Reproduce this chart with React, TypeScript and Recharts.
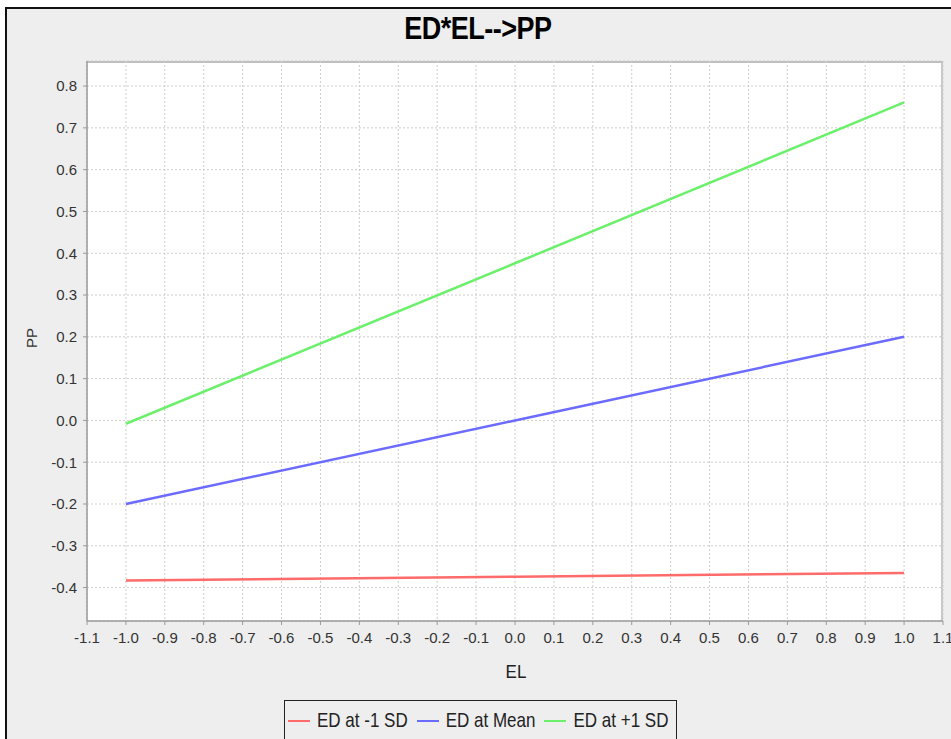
import { LineChart, Line, XAxis, YAxis, CartesianGrid } from "recharts";

// EL values where the simple slopes were evaluated
const elValues = [-1.0, 0.0, 1.0];

// predicted PP for each ED level
const edLow = [-0.383, -0.374, -0.365];
const edMean = [-0.2, 0.0, 0.2];
const edHigh = [-0.008, 0.376, 0.761];

const seriesKeys = ["low", "mean", "high"];
const seriesNames = ["ED at -1 SD", "ED at Mean", "ED at +1 SD"];
const seriesColors = ["#ff6b6b", "#6b6bff", "#6bf06b"];

const xTicks = [
  -1.1, -1.0, -0.9, -0.8, -0.7, -0.6, -0.5, -0.4, -0.3, -0.2, -0.1, 0.0, 0.1,
  0.2, 0.3, 0.4, 0.5, 0.6, 0.7, 0.8, 0.9, 1.0, 1.1,
];
const yTicks = [-0.4, -0.3, -0.2, -0.1, 0.0, 0.1, 0.2, 0.3, 0.4, 0.5, 0.6, 0.7, 0.8];

const data = elValues.map((el, i) => ({
  el,
  low: edLow[i],
  mean: edMean[i],
  high: edHigh[i],
}));

const fmt = (v: number) => (Math.abs(v) < 1e-9 ? 0 : v).toFixed(1);

const W = 951;
const H = 739;

export default function App() {
  return (
    <div
      style={{
        position: "absolute",
        left: 0,
        top: 0,
        width: W,
        height: H,
        overflow: "hidden",
        background: "#fff",
        fontFamily: "'Liberation Sans', Arial, sans-serif",
      }}
    >
      {/* outer frame */}
      <div
        style={{
          position: "absolute",
          left: 5,
          top: 7,
          width: W,
          height: H,
          background: "#eeeeee",
          borderLeft: "2px solid #111",
          borderTop: "2px solid #111",
        }}
      />
      {/* plot background */}
      <div
        style={{
          position: "absolute",
          left: 87,
          top: 61,
          width: 856,
          height: 560,
          background: "#fff",
          boxSizing: "border-box",
          borderTop: "2px solid #bdbdbd",
          borderRight: "2px solid #c8c8c8",
        }}
      />
      <div
        style={{
          position: "absolute",
          left: 5,
          top: 16,
          width: 946,
          textAlign: "center",
          fontSize: 27,
          lineHeight: "27px",
          fontWeight: "bold",
          letterSpacing: -0.5,
          color: "#000",
          transform: "scaleY(1.15)",
        }}
      >
        ED*EL--&gt;PP
      </div>
      <div style={{ position: "absolute", left: 0, top: 0 }}>
        <LineChart
          width={W}
          height={H}
          data={data}
          margin={{ top: 61, right: 8, left: 0, bottom: 88 }}
        >
          <CartesianGrid stroke="#cdcdcd" strokeDasharray="2 2" />
          <XAxis
            dataKey="el"
            type="number"
            domain={[-1.1, 1.1]}
            ticks={xTicks}
            interval={0}
            tickFormatter={fmt}
            height={30}
            tickSize={4}
            tickMargin={7}
            axisLine={{ stroke: "#9a9a9a", strokeWidth: 1.5 }}
            tickLine={{ stroke: "#9a9a9a" }}
            tick={{ fontSize: 15, fill: "#333" }}
          />
          <YAxis
            type="number"
            domain={[-0.48, 0.86]}
            ticks={yTicks}
            interval={0}
            tickFormatter={fmt}
            width={87}
            tickSize={4}
            tickMargin={6}
            axisLine={{ stroke: "#9a9a9a", strokeWidth: 1.5 }}
            tickLine={{ stroke: "#9a9a9a" }}
            tick={{ fontSize: 15, fill: "#333" }}
          />
          {seriesKeys.map((k, i) => (
            <Line
              key={k}
              type="linear"
              dataKey={k}
              name={seriesNames[i]}
              stroke={seriesColors[i]}
              strokeWidth={2.5}
              dot={false}
              activeDot={false}
              isAnimationActive={false}
            />
          ))}
        </LineChart>
      </div>
      {/* axis titles */}
      <div
        style={{
          position: "absolute",
          left: 32 - 30,
          top: 338 - 9,
          width: 60,
          height: 18,
          lineHeight: "18px",
          textAlign: "center",
          fontSize: 15,
          color: "#333",
          transform: "rotate(-90deg)",
        }}
      >
        PP
      </div>
      <div
        style={{
          position: "absolute",
          left: 466,
          top: 663,
          width: 100,
          textAlign: "center",
          fontSize: 17,
          lineHeight: "17px",
          color: "#222",
          transform: "scaleY(1.1)",
        }}
      >
        EL
      </div>
      {/* legend */}
      <div
        style={{
          position: "absolute",
          left: 284,
          top: 700,
          width: 393,
          height: 60,
          boxSizing: "border-box",
          border: "1.5px solid #222",
          paddingLeft: 3,
          paddingTop: 8,
          display: "flex",
          alignItems: "flex-start",
        }}
      >
        {seriesNames.map((n, i) => (
          <div
            key={n}
            style={{ display: "flex", alignItems: "center", marginRight: 9, height: 24 }}
          >
            <span
              style={{
                display: "inline-block",
                width: 22,
                height: 2,
                background: seriesColors[i],
                marginRight: 7,
              }}
            />
            <span
              style={{
                display: "inline-block",
                fontSize: 17,
                lineHeight: "24px",
                color: "#222",
                whiteSpace: "nowrap",
                transform: "scaleY(1.2)",
              }}
            >
              {n}
            </span>
          </div>
        ))}
      </div>
    </div>
  );
}
